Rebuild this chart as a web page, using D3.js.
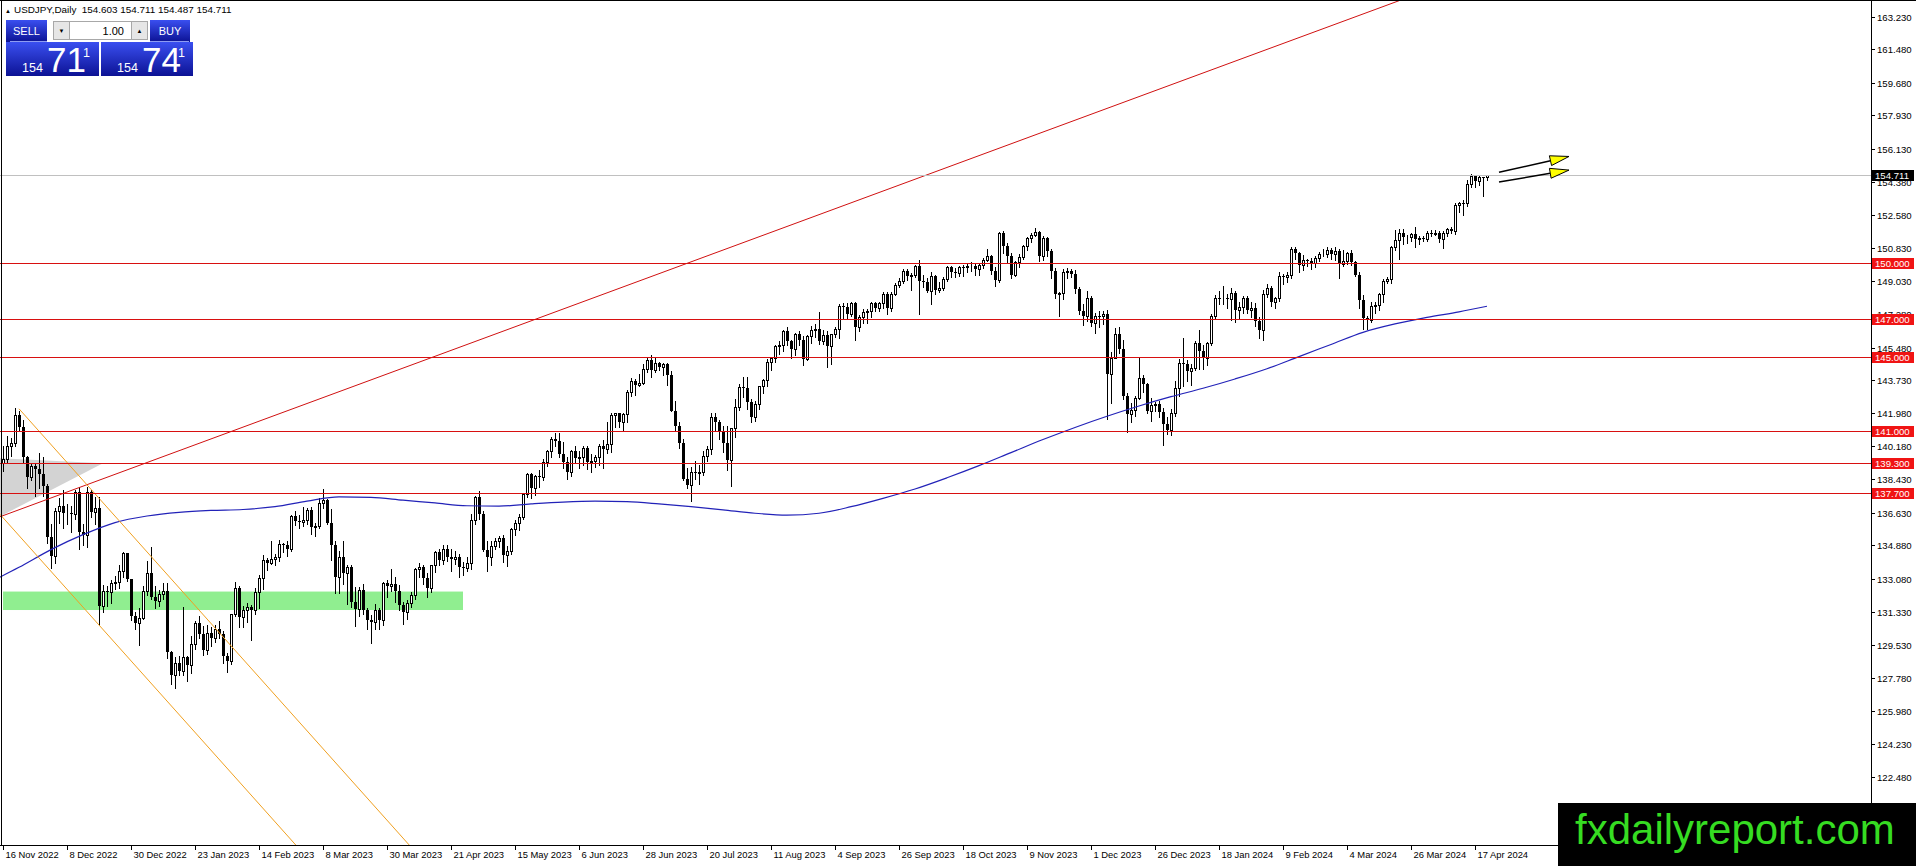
<!DOCTYPE html>
<html>
<head>
<meta charset="utf-8">
<script src="https://cdn.jsdelivr.net/npm/d3@7"></script>
<style>
  html, body { margin: 0; padding: 0; background: #fff; }
  svg { display: block; }
  text { font-family: "Liberation Sans", Arial, "DejaVu Sans", sans-serif; }
</style>
</head>
<body>
<div class="canvas"></div>
<script>
// USDJPY daily, 16 Nov 2022 .. 22 Apr 2024, one row per bar: [open, high, low, close]
const candles = [
[139.30,140.20,138.87,139.52],[139.52,140.75,139.30,140.22],[140.22,140.62,139.66,140.38],[140.38,142.25,140.20,141.85],
[141.85,142.10,141.05,141.25],[141.25,141.60,139.27,139.60],[139.60,139.65,137.97,138.55],[138.55,139.30,138.40,139.15],
[139.15,139.30,137.50,138.95],[138.95,139.85,137.95,138.72],[138.72,139.60,137.50,138.05],[138.05,138.15,135.00,135.30],
[135.30,136.00,133.65,134.30],[134.30,136.90,133.95,136.72],[136.72,137.40,136.10,137.00],[137.00,137.85,135.80,136.60],
[136.60,137.10,136.00,136.62],[136.62,137.00,135.60,136.55],[136.55,137.85,136.30,137.75],[137.75,138.00,134.70,135.60],
[135.60,136.00,134.90,135.45],[135.45,138.00,134.80,137.75],[137.75,137.85,136.40,136.65],[136.65,137.45,136.00,136.90],
[136.90,137.45,130.58,131.65],[131.65,132.75,131.30,132.45],[132.45,132.70,131.65,132.35],[132.35,133.00,131.80,132.85],
[132.85,133.25,132.55,132.90],[132.90,133.80,132.60,133.50],[133.50,134.50,133.20,134.45],[134.45,134.45,132.95,133.05],
[133.05,133.10,130.85,131.10],[131.10,131.30,130.40,130.70],[130.70,131.50,129.52,131.00],[131.00,132.72,130.95,132.45],
[132.45,134.05,132.20,133.40],[133.40,134.78,132.00,132.10],[132.10,132.70,131.50,131.88],[131.88,132.50,131.60,132.25],
[132.25,132.85,132.00,132.45],[132.45,132.85,128.85,129.15],[129.15,129.20,127.46,127.90],[127.90,128.90,127.22,128.55],
[128.55,128.95,127.90,128.15],[128.15,131.58,127.95,128.90],[128.90,128.95,127.60,128.45],[128.45,130.00,128.05,129.60],
[129.60,130.80,129.30,130.70],[130.70,131.10,129.90,130.15],[130.15,130.55,129.00,129.25],[129.25,130.60,129.05,130.20],
[130.20,130.50,129.50,129.90],[129.90,130.60,129.70,130.40],[130.40,130.80,129.90,130.10],[130.10,130.30,128.55,128.95],
[128.95,129.10,128.08,128.70],[128.70,131.20,128.50,131.20],[131.20,132.90,131.10,132.60],[132.60,132.70,130.50,131.05],
[131.05,131.60,130.50,131.40],[131.40,131.80,130.75,131.55],[131.55,131.70,129.80,131.40],[131.40,132.60,131.20,132.40],
[132.40,133.30,131.50,133.15],[133.15,134.35,132.55,134.10],[134.10,134.20,133.55,133.95],[133.95,135.10,133.90,134.15],
[134.15,134.40,133.80,134.25],[134.25,135.15,134.05,134.95],[134.95,135.00,134.50,134.90],[134.90,135.10,134.30,134.70],
[134.70,136.50,134.55,136.45],[136.45,136.70,135.95,136.20],[136.20,136.50,135.80,136.15],[136.15,136.95,135.90,136.25],
[136.25,136.90,136.00,136.75],[136.75,136.95,135.50,135.85],[135.85,136.10,135.40,135.90],[135.90,137.40,135.80,137.15],
[137.15,137.91,136.90,137.30],[137.30,137.35,136.00,136.05],[136.05,136.80,134.10,134.90],[134.90,135.10,132.30,133.20],
[133.20,134.60,132.30,134.25],[134.25,135.10,132.80,133.40],[133.40,133.80,131.75,133.70],[133.70,133.85,131.55,131.85],
[131.85,132.65,130.55,131.45],[131.45,132.65,131.10,132.50],[132.50,132.80,131.20,131.40],[131.40,131.50,130.40,130.85],
[130.85,131.15,129.64,130.75],[130.75,131.75,130.40,131.40],[131.40,131.50,130.40,130.90],[130.90,132.90,130.60,132.85],
[132.85,133.00,132.10,132.70],[132.70,133.60,132.45,132.80],[132.80,133.20,131.85,132.45],[132.45,132.75,131.40,131.70],
[131.70,131.85,130.65,131.30],[131.30,131.95,130.95,131.80],[131.80,132.40,131.55,132.20],[132.20,133.65,132.00,133.60],
[133.60,133.95,133.20,133.70],[133.70,133.85,132.80,133.15],[133.15,133.40,132.10,132.60],[132.60,133.85,132.40,133.80],
[133.80,134.60,133.45,134.50],[134.50,134.70,133.80,134.10],[134.10,134.90,133.90,134.70],[134.70,134.90,134.05,134.25],
[134.25,134.70,133.50,134.15],[134.15,134.55,133.90,134.25],[134.25,134.40,133.20,133.70],[133.70,134.00,133.30,133.65],
[133.65,134.25,133.50,133.95],[133.95,136.55,133.60,136.25],[136.25,137.55,136.00,137.45],[137.45,137.77,136.30,136.55],
[136.55,136.70,134.55,134.65],[134.65,135.10,133.50,134.25],[134.25,135.10,133.85,134.85],[134.85,135.25,134.70,135.10],
[135.10,135.40,134.80,135.25],[135.25,135.45,134.00,134.35],[134.35,134.85,133.75,134.55],[134.55,135.80,134.40,135.75],
[135.75,136.25,135.45,136.10],[136.10,136.55,135.70,136.40],[136.40,137.70,136.30,137.65],[137.65,138.75,137.45,138.70],
[138.70,138.75,137.40,137.95],[137.95,138.65,137.60,138.60],[138.60,138.90,138.00,138.55],[138.55,139.50,138.40,139.35],
[139.35,140.00,139.15,139.95],[139.95,140.70,139.60,140.60],[140.60,140.90,140.20,140.45],[140.45,140.92,139.60,139.80],
[139.80,140.40,139.00,139.35],[139.35,139.60,138.45,138.80],[138.80,140.00,138.60,139.95],[139.95,140.20,139.30,139.55],
[139.55,139.95,139.00,139.60],[139.60,140.20,139.20,140.10],[140.10,140.20,138.95,139.35],[139.35,139.75,138.80,139.38],
[139.38,139.70,139.10,139.60],[139.60,140.30,139.20,140.20],[140.20,140.50,139.05,140.05],[140.05,141.50,139.85,140.30],
[140.30,141.95,139.90,141.85],[141.85,142.00,141.25,141.95],[141.95,142.00,141.20,141.50],[141.50,141.95,141.05,141.90],
[141.90,143.20,141.50,143.10],[143.10,143.85,142.90,143.70],[143.70,143.80,142.95,143.50],[143.50,144.05,143.40,143.60],
[143.60,144.60,143.55,144.35],[144.35,144.90,144.15,144.80],[144.80,145.07,143.90,144.30],[144.30,144.90,144.15,144.65],
[144.65,144.70,144.30,144.45],[144.45,144.65,144.00,144.60],[144.60,144.65,143.50,144.00],[144.00,144.20,142.10,142.10],
[142.10,142.60,141.00,141.30],[141.30,141.50,140.10,140.35],[140.35,140.60,138.40,138.45],[138.45,139.00,137.95,138.10],
[138.10,139.10,137.24,138.80],[138.80,139.40,138.45,138.75],[138.75,139.20,138.15,138.80],[138.80,139.95,138.65,139.65],
[139.65,140.20,139.40,140.05],[140.05,141.95,139.75,141.75],[141.75,141.95,141.05,141.50],[141.50,141.60,140.60,140.95],
[140.95,141.30,139.90,140.35],[140.35,141.30,138.90,139.45],[139.45,141.15,138.05,141.15],[141.15,142.70,140.70,142.30],
[142.30,143.55,142.15,143.35],[143.35,143.90,142.85,143.30],[143.30,143.90,142.20,142.55],[142.55,142.70,141.50,141.75],
[141.75,142.60,141.55,142.45],[142.45,143.40,142.20,143.40],[143.40,143.80,143.05,143.75],[143.75,144.85,143.40,144.70],
[144.70,145.00,144.30,144.95],[144.95,145.60,144.70,145.55],[145.55,145.85,145.15,145.60],[145.60,146.40,145.30,146.35],
[146.35,146.56,145.60,145.85],[145.85,145.90,144.90,145.40],[145.40,146.25,145.10,146.20],[146.20,146.35,145.60,145.90],
[145.90,146.10,144.55,144.85],[144.85,146.15,144.80,146.10],[146.10,146.65,145.75,146.40],[146.40,146.75,146.05,146.50],
[146.50,147.37,145.70,145.85],[145.85,146.45,145.70,146.15],[146.15,146.35,144.44,145.55],[145.55,146.20,144.60,146.20],
[146.20,146.60,146.05,146.50],[146.50,147.80,146.00,147.70],[147.70,147.85,147.05,147.65],[147.65,147.85,147.00,147.30],
[147.30,147.95,147.15,147.85],[147.85,147.90,145.90,146.60],[146.60,147.25,146.35,147.10],[147.10,147.55,146.80,147.40],
[147.40,147.55,146.80,147.45],[147.45,147.95,147.10,147.85],[147.85,147.95,147.45,147.60],[147.60,147.95,147.45,147.85],
[147.85,148.45,147.60,148.35],[148.35,148.45,147.30,147.60],[147.60,148.45,147.45,148.35],[148.35,148.95,148.30,148.85],
[148.85,149.20,148.75,149.05],[149.05,149.70,148.95,149.60],[149.60,149.70,149.10,149.30],[149.30,149.50,148.55,149.35],
[149.35,149.90,149.25,149.85],[149.85,150.16,147.30,149.05],[149.05,149.35,148.75,149.00],[149.00,149.20,148.45,148.50],
[148.50,149.55,147.80,149.30],[149.30,149.40,148.35,148.55],[148.55,149.00,148.45,148.70],[148.70,149.25,148.55,149.15],
[149.15,149.85,149.05,149.80],[149.80,149.85,149.25,149.55],[149.55,149.75,149.25,149.50],[149.50,149.85,149.30,149.80],
[149.80,149.90,149.30,149.78],[149.78,149.95,149.55,149.85],[149.85,150.05,149.60,149.88],[149.88,150.00,149.35,149.70],
[149.70,149.95,149.40,149.90],[149.90,150.30,149.75,150.20],[150.20,150.78,150.10,150.40],[150.40,150.45,149.45,149.60],
[149.60,149.80,148.80,149.10],[149.10,151.70,149.00,151.65],[151.65,151.72,150.55,150.95],[150.95,151.10,150.00,150.40],
[150.40,150.55,149.23,149.40],[149.40,150.15,149.30,150.05],[150.05,150.50,149.80,150.35],[150.35,151.00,150.25,150.95],
[150.95,151.40,150.70,151.35],[151.35,151.60,151.15,151.50],[151.50,151.91,151.45,151.70],[151.70,151.75,150.15,150.40],
[150.40,151.45,150.20,151.35],[151.35,151.40,150.40,150.65],[150.65,150.75,149.20,149.60],[149.60,149.75,148.15,148.35],
[148.35,148.45,147.15,148.40],[148.40,149.70,148.10,149.55],[149.55,149.75,149.20,149.58],[149.58,149.70,149.25,149.45],
[149.45,149.65,148.40,148.65],[148.65,148.75,147.30,147.45],[147.45,147.80,146.70,147.20],[147.20,148.50,146.90,148.15],
[148.15,148.25,146.65,146.80],[146.80,147.35,146.25,147.20],[147.20,147.45,146.60,147.15],[147.15,147.45,146.75,147.30],
[147.30,147.50,141.65,144.05],[144.05,145.25,142.50,144.95],[144.95,146.55,144.90,146.20],[146.20,146.60,145.20,145.40],
[145.40,145.90,142.75,142.90],[142.90,143.05,140.97,141.90],[141.90,142.50,141.50,142.15],[142.15,142.90,141.80,142.80],
[142.80,144.96,142.70,143.85],[143.85,144.00,143.10,143.55],[143.55,143.60,142.00,142.10],[142.10,142.80,141.55,142.40],
[142.40,142.55,142.10,142.45],[142.45,142.60,141.75,142.05],[142.05,142.25,140.25,141.40],[141.40,141.75,140.85,141.05],
[141.05,142.20,140.80,141.95],[141.95,143.70,141.80,143.30],[143.30,144.85,142.90,144.65],[144.65,145.98,143.42,144.60],
[144.60,144.80,143.70,144.20],[144.20,144.60,143.45,144.40],[144.40,145.85,144.30,145.75],[145.75,146.40,144.35,145.30],
[145.30,145.60,144.34,144.90],[144.90,145.80,144.55,145.75],[145.75,147.30,145.60,147.15],[147.15,148.30,147.00,148.15],
[148.15,148.50,147.80,148.12],[148.12,148.80,147.80,148.15],[148.15,148.35,147.60,148.10],[148.10,148.70,146.97,148.40],
[148.40,148.50,146.85,147.50],[147.50,147.90,147.05,147.65],[147.65,148.25,147.35,148.15],[148.15,148.25,147.35,147.50],
[147.50,147.90,147.10,147.60],[147.60,147.85,146.65,146.90],[146.90,147.10,146.00,146.45],[146.45,148.58,145.90,148.35],
[148.35,148.89,148.20,148.70],[148.70,148.80,147.70,147.95],[147.95,148.20,147.60,148.15],[148.15,149.55,148.00,149.30],
[149.30,149.45,148.90,149.25],[149.25,149.55,149.00,149.35],[149.35,150.88,149.20,150.75],[150.75,150.85,150.25,150.55],
[150.55,150.60,149.55,149.90],[149.90,150.45,149.65,150.20],[150.20,150.25,149.85,150.10],[150.10,150.30,149.70,150.00],
[150.00,150.40,149.80,150.30],[150.30,150.60,150.10,150.50],[150.50,150.75,150.40,150.52],[150.52,150.85,150.35,150.70],
[150.70,150.80,150.25,150.50],[150.50,150.85,150.20,150.65],[150.65,150.75,149.20,149.95],[149.95,150.70,149.85,150.10],
[150.10,150.60,149.95,150.55],[150.55,150.70,149.90,150.05],[150.05,150.15,149.30,149.35],[149.35,149.55,147.60,148.05],
[148.05,148.30,146.50,147.05],[147.05,147.20,146.48,146.95],[146.95,147.90,146.85,147.70],[147.70,147.95,147.35,147.75],
[147.75,148.40,147.50,148.35],[148.35,149.15,147.95,149.05],[149.05,149.25,148.95,149.15],[149.15,150.95,148.95,150.90],
[150.90,151.80,150.70,151.25],[151.25,151.85,150.25,151.60],[151.60,151.85,151.05,151.40],[151.40,151.50,151.10,151.42],
[151.42,151.60,151.20,151.55],[151.55,151.97,150.85,151.30],[151.30,151.45,151.05,151.35],[151.35,151.45,151.20,151.33],
[151.33,151.75,151.20,151.65],[151.65,151.80,151.45,151.55],[151.55,151.80,151.50,151.65],[151.65,151.75,151.15,151.30],
[151.30,151.75,150.80,151.60],[151.60,151.90,151.45,151.85],[151.85,151.95,151.60,151.75],[151.75,153.25,151.55,153.15],
[153.15,153.30,152.75,153.25],[153.25,153.40,152.60,153.22],[153.22,154.45,153.10,154.25],[154.25,154.79,154.10,154.70],
[154.70,154.75,154.10,154.40],[154.40,154.70,154.20,154.65],[154.65,154.65,153.60,154.60],[154.603,154.711,154.487,154.711]
]

// time axis: one label every 16 bars
const xTickLabels = ['16 Nov 2022', '8 Dec 2022', '30 Dec 2022', '23 Jan 2023', '14 Feb 2023', '8 Mar 2023',
  '30 Mar 2023', '21 Apr 2023', '15 May 2023', '6 Jun 2023', '28 Jun 2023', '20 Jul 2023', '11 Aug 2023',
  '4 Sep 2023', '26 Sep 2023', '18 Oct 2023', '9 Nov 2023', '1 Dec 2023', '26 Dec 2023', '18 Jan 2024',
  '9 Feb 2024', '4 Mar 2024', '26 Mar 2024', '17 Apr 2024']
const yTickLabels = [163.230, 161.480, 159.680, 157.930, 156.130, 154.380, 152.580, 150.830, 149.030, 147.280,
  145.480, 143.730, 141.980, 140.180, 138.430, 136.630, 134.880, 133.080, 131.330, 129.530, 127.780, 125.980,
  124.230, 122.480]

// horizontal support / resistance levels
const levels = [150.000, 147.000, 145.000, 141.000, 139.300, 137.700]

// moving average: bar index -> price
const maBars = [-1, 4, 12, 20, 28, 36, 44, 52, 60, 68, 76, 84, 92, 100, 108, 116, 124, 132, 140, 148, 156, 164,
  172, 180, 188, 196, 204, 212, 220, 228, 236, 244, 252, 260, 268, 276, 284, 292, 300, 308, 316, 324, 332, 340,
  348, 356, 364, 371]
const maValues = [133.15, 133.7, 134.65, 135.45, 136.1, 136.45, 136.65, 136.75, 136.8, 136.95, 137.25, 137.48,
  137.45, 137.3, 137.15, 137.0, 136.98, 137.1, 137.2, 137.25, 137.22, 137.1, 136.95, 136.78, 136.6, 136.5, 136.6,
  136.95, 137.4, 137.9, 138.5, 139.15, 139.85, 140.55, 141.2, 141.8, 142.35, 142.85, 143.3, 143.8, 144.35, 145.0,
  145.65, 146.3, 146.75, 147.1, 147.4, 147.7]

// drawn objects, anchors as [bar index, price]
const trendLine = [[0, 136.47], [340, 163.37]]
const channelUpper = [[4, 142.20], [94, 120.62]]
const channelLower = [[0, 136.36], [90, 114.78]]
const triangleZone = [[-1, 139.55], [25, 139.28], [-1, 136.40]]
const greenZoneBars = [0, 115]
const greenZonePrices = [131.41, 132.40]
const arrowStarts = [[374, 154.88], [374, 154.36]]
const arrowTips = [[391.5, 155.73], [391.5, 155.00]]

const quote = [154.711, 154.741] // bid, ask

const W = 1916, H = 866
const plotRight = 1871, plotBottom = 845

const svg = d3.select('.canvas')
  .append('svg')
  .attr('width', W)
  .attr('height', H)

const x = d3.scaleLinear().domain([0, 467]).range([3, plotRight])
const y = d3.scaleLinear().domain([118.81, 164.12]).range([plotBottom, 0])

const defs = svg.append('defs')
defs.append('clipPath').attr('id', 'plot')
  .append('rect').attr('x', 0).attr('y', 0).attr('width', plotRight).attr('height', plotBottom)

const grad = defs.append('linearGradient').attr('id', 'blue')
  .attr('x1', 0).attr('y1', 0).attr('x2', 0).attr('y2', 1)
grad.append('stop').attr('offset', '0%').attr('stop-color', '#3a4ff0')
grad.append('stop').attr('offset', '100%').attr('stop-color', '#0c1294')

const plot = svg.append('g').attr('clip-path', 'url(#plot)')
const px = d => [x(d[0]), y(d[1])]

// background objects
plot.append('polygon')
  .attr('points', triangleZone.map(d => px(d).join(',')).join(' '))
  .attr('fill', '#d3d3d3')

plot.append('rect')
  .attr('x', x(greenZoneBars[0]))
  .attr('y', y(greenZonePrices[1]))
  .attr('width', x(greenZoneBars[1]) - x(greenZoneBars[0]))
  .attr('height', y(greenZonePrices[0]) - y(greenZonePrices[1]))
  .attr('fill', '#90ee90')

// candles
const cg = plot.append('g').attr('shape-rendering', 'crispEdges')
const cx = i => Math.round(x(i))

cg.selectAll('line.wick')
  .data(candles)
  .enter()
  .append('line')
  .attr('class', 'wick')
  .attr('x1', (d, i) => cx(i) + 0.5)
  .attr('x2', (d, i) => cx(i) + 0.5)
  .attr('y1', d => Math.round(y(d[1])))
  .attr('y2', d => Math.round(y(d[2])) + 1)
  .attr('stroke', '#000')

cg.selectAll('rect.bear')
  .data(candles.map((d, i) => ({ d, i })).filter(e => e.d[3] <= e.d[0]))
  .enter()
  .append('rect')
  .attr('class', 'bear')
  .attr('x', e => cx(e.i) - 1)
  .attr('y', e => Math.round(y(e.d[0])))
  .attr('width', 3)
  .attr('height', e => Math.max(1, Math.round(y(e.d[3])) - Math.round(y(e.d[0]))))
  .attr('fill', '#000')

cg.selectAll('rect.bull')
  .data(candles.map((d, i) => ({ d, i })).filter(e => e.d[3] > e.d[0]))
  .enter()
  .append('rect')
  .attr('class', 'bull')
  .attr('x', e => cx(e.i) - 0.5)
  .attr('y', e => Math.round(y(e.d[3])) + 0.5)
  .attr('width', 2)
  .attr('height', e => Math.max(0, Math.round(y(e.d[0])) - Math.round(y(e.d[3]))))
  .attr('fill', '#fff')
  .attr('stroke', '#000')

// moving average
const ma = maBars.map((b, i) => [b, maValues[i]])
plot.append('path')
  .datum(ma)
  .attr('d', d3.line().x(d => x(d[0])).y(d => y(d[1])).curve(d3.curveMonotoneX))
  .attr('fill', 'none')
  .attr('stroke', '#2222b8')
  .attr('stroke-width', 1.2)

// lines through two anchors, extended from xa to xb (pixels)
function extended(pts, xa, xb) {
  const [p, q] = pts.map(px)
  const m = (q[1] - p[1]) / (q[0] - p[0])
  return [[xa, p[1] + m * (xa - p[0])], [xb, p[1] + m * (xb - p[0])]]
}
function drawLine(seg, color) {
  plot.append('line')
    .attr('x1', seg[0][0]).attr('y1', seg[0][1])
    .attr('x2', seg[1][0]).attr('y2', seg[1][1])
    .attr('stroke', color)
    .attr('stroke-width', 1)
}
drawLine(extended(trendLine, 0, plotRight), '#d01010')
drawLine(extended(channelUpper, x(channelUpper[0][0]), plotRight), '#f0a020')
drawLine(extended(channelLower, 0, plotRight), '#f0a020')

// level lines
const hl = plot.append('g').attr('shape-rendering', 'crispEdges')
hl.append('line')
  .attr('x1', 0).attr('x2', plotRight)
  .attr('y1', Math.round(y(quote[0])) + 0.5).attr('y2', Math.round(y(quote[0])) + 0.5)
  .attr('stroke', '#c0c0c0')
hl.selectAll('line.level')
  .data(levels)
  .enter()
  .append('line')
  .attr('class', 'level')
  .attr('x1', 0).attr('x2', plotRight)
  .attr('y1', d => Math.round(y(d)) + 0.5).attr('y2', d => Math.round(y(d)) + 0.5)
  .attr('stroke', '#d81010')

// arrows
arrowStarts.forEach((s, k) => {
  const a = px(s), b = px(arrowTips[k])
  const ang = Math.atan2(b[1] - a[1], b[0] - a[0])
  const len = 19, half = 5
  const bx = b[0] - len * Math.cos(ang), by = b[1] - len * Math.sin(ang)
  plot.append('line')
    .attr('x1', a[0]).attr('y1', a[1]).attr('x2', bx).attr('y2', by)
    .attr('stroke', '#000').attr('stroke-width', 1.5)
  const nx = -Math.sin(ang) * half, ny = Math.cos(ang) * half
  plot.append('polygon')
    .attr('points', [[b[0], b[1]], [bx + nx, by + ny], [bx - nx, by - ny]].map(p => p.join(',')).join(' '))
    .attr('fill', '#ffff00')
    .attr('stroke', '#000')
    .attr('stroke-width', 1)
})

// axes
const ax = svg.append('g').attr('shape-rendering', 'crispEdges')
ax.append('line').attr('x1', 1.5).attr('x2', 1.5).attr('y1', 0).attr('y2', plotBottom).attr('stroke', '#000')
ax.append('line').attr('x1', 0).attr('x2', W).attr('y1', 0.5).attr('y2', 0.5).attr('stroke', '#000')
ax.append('line').attr('x1', plotRight + 0.5).attr('x2', plotRight + 0.5).attr('y1', 0).attr('y2', plotBottom + 1).attr('stroke', '#000')
ax.append('line').attr('x1', 0).attr('x2', plotRight + 1).attr('y1', plotBottom + 0.5).attr('y2', plotBottom + 0.5).attr('stroke', '#000')

const yt = ax.selectAll('g.ytick')
  .data(yTickLabels)
  .enter()
  .append('g')
  .attr('class', 'ytick')
  .attr('transform', d => `translate(0, ${Math.round(y(d)) + 0.5})`)
yt.append('line').attr('x1', plotRight).attr('x2', plotRight + 4).attr('stroke', '#000')
yt.append('text')
  .attr('x', plotRight + 6).attr('y', 3.5)
  .attr('font-size', '9.6px').attr('fill', '#000')
  .text(d => d.toFixed(3))

const xt = ax.selectAll('g.xtick')
  .data(xTickLabels)
  .enter()
  .append('g')
  .attr('class', 'xtick')
  .attr('transform', (d, i) => `translate(${cx(i * 16) + 0.5}, 0)`)
xt.append('line').attr('y1', plotBottom).attr('y2', plotBottom + 5).attr('stroke', '#000')
xt.append('text')
  .attr('x', 2).attr('y', plotBottom + 13)
  .attr('font-size', '9.4px').attr('fill', '#000')
  .text(d => d)

// price tags on the axis
function priceTag(v, bg) {
  const yy = Math.round(y(v))
  ax.append('rect').attr('x', plotRight + 1).attr('y', yy - 5).attr('width', 42).attr('height', 11).attr('fill', bg)
  ax.append('text').attr('x', plotRight + 4).attr('y', yy + 4)
    .attr('font-size', '9.6px').attr('fill', '#fff').text(v.toFixed(3))
}
levels.forEach(v => priceTag(v, '#f01414'))
priceTag(quote[0], '#000')

// header line
const last = candles[candles.length - 1]
svg.append('text').attr('x', 5).attr('y', 12.5).attr('font-size', '6px').attr('fill', '#000')
  .attr('font-family', 'DejaVu Sans').text('\u25B2')
svg.append('text').attr('x', 14).attr('y', 13).attr('font-size', '9.9px').attr('fill', '#000')
  .attr('xml:space', 'preserve')
  .text('USDJPY,Daily  ' + last.map(v => v.toFixed(3)).join(' '))

// one-click trading panel
const panel = svg.append('g').attr('shape-rendering', 'crispEdges')
panel.append('rect').attr('x', 6).attr('y', 20).attr('width', 41).attr('height', 22).attr('fill', 'url(#blue)')
panel.append('rect').attr('x', 150).attr('y', 20).attr('width', 40).attr('height', 22).attr('fill', 'url(#blue)')
panel.append('rect').attr('x', 6).attr('y', 42).attr('width', 93).attr('height', 34).attr('fill', 'url(#blue)')
panel.append('rect').attr('x', 101).attr('y', 42).attr('width', 92).attr('height', 34).attr('fill', 'url(#blue)')
panel.append('line').attr('x1', 10).attr('x2', 47).attr('y1', 41.5).attr('y2', 41.5).attr('stroke', '#8e9cf2')
panel.append('line').attr('x1', 150).attr('x2', 189).attr('y1', 41.5).attr('y2', 41.5).attr('stroke', '#8e9cf2')
panel.append('rect').attr('x', 53.5).attr('y', 21.5).attr('width', 16).attr('height', 18).attr('fill', '#e6e6e6').attr('stroke', '#a8a8a8')
panel.append('rect').attr('x', 69.5).attr('y', 21.5).attr('width', 62).attr('height', 18).attr('fill', '#fff').attr('stroke', '#a8a8a8')
panel.append('rect').attr('x', 131.5).attr('y', 21.5).attr('width', 16).attr('height', 18).attr('fill', '#e6e6e6').attr('stroke', '#a8a8a8')
panel.append('text').attr('x', 61.5).attr('y', 33).attr('font-size', '6px').attr('text-anchor', 'middle')
  .attr('font-family', 'DejaVu Sans').text('\u25BC')
panel.append('text').attr('x', 139.5).attr('y', 33).attr('font-size', '6px').attr('text-anchor', 'middle')
  .attr('font-family', 'DejaVu Sans').text('\u25B2')
panel.append('text').attr('x', 124).attr('y', 35).attr('font-size', '11px').attr('text-anchor', 'end').text('1.00')
panel.append('text').attr('x', 26.5).attr('y', 35).attr('font-size', '11px').attr('text-anchor', 'middle').attr('fill', '#fff').text('SELL')
panel.append('text').attr('x', 170).attr('y', 35).attr('font-size', '11px').attr('text-anchor', 'middle').attr('fill', '#fff').text('BUY')

const boxX = [[22, 47, 83], [117, 142, 178]]
quote.forEach((q, k) => {
  const s = q.toFixed(3)
  panel.append('text').attr('x', boxX[k][0]).attr('y', 72).attr('font-size', '12.5px').attr('fill', '#fff').text(s.slice(0, 3))
  panel.append('text').attr('x', boxX[k][1]).attr('y', 72).attr('font-size', '35px').attr('fill', '#fff').text(s.slice(4, 6))
  panel.append('text').attr('x', boxX[k][2]).attr('y', 57).attr('font-size', '12.5px').attr('fill', '#fff').text(s.slice(6))
})

// watermark
svg.append('rect').attr('x', 1558).attr('y', 803).attr('width', W - 1558).attr('height', H - 803).attr('fill', '#000')
svg.append('text').attr('x', 1575).attr('y', 844).attr('font-size', '42px').attr('fill', '#36dc22')
  .text('fxdailyreport.com')
</script>
</body>
</html>
